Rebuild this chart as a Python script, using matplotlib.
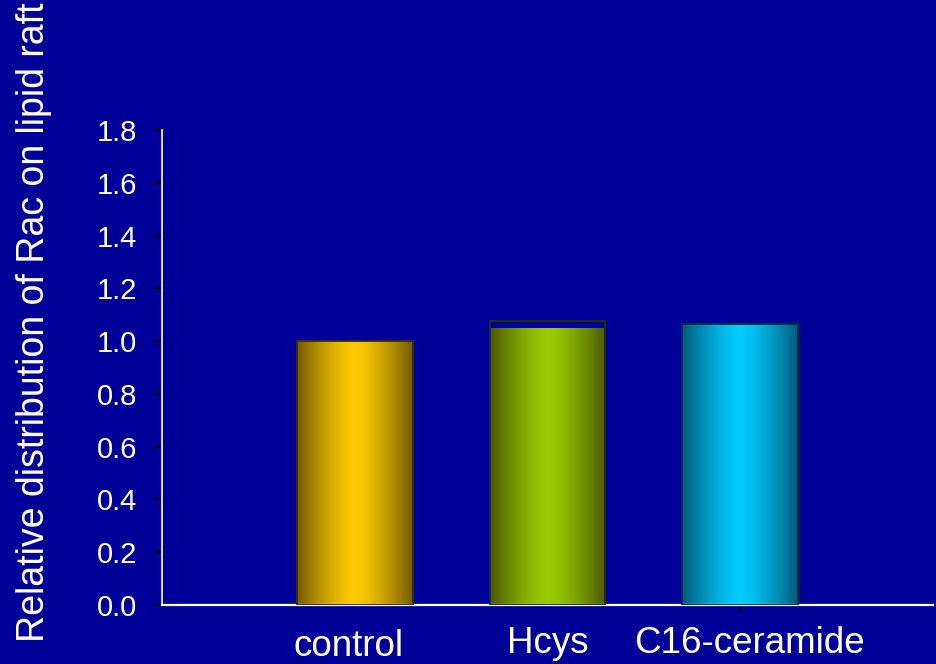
import numpy as np
import matplotlib
matplotlib.use("Agg")
import matplotlib.pyplot as plt
from matplotlib.colors import to_rgb
from matplotlib.transforms import blended_transform_factory

plt.rcParams['font.family'] = ['Liberation Sans', 'DejaVu Sans']

# ---- data ----
categories = ["control", "Hcys", "C16-ceramide"]
values = [1.00, 1.05, 1.063]          # filled bar heights
outline_values = [1.00, 1.076, 1.063]  # outlined box heights (Hcys box extends above fill)
y_ticks = [0.0, 0.2, 0.4, 0.6, 0.8, 1.0, 1.2, 1.4, 1.6, 1.8]
ylabel = "Relative distribution of Rac on lipid raft"

# ---- style ----
bg = "#000099"
center_colors = ["#FFCC00", "#99CC00", "#00CCFF"]
edge_colors = ["#735a00", "#4a5800", "#005a78"]
line_colors = ["#3a3000", "#263000", "#00323f"]
label_dx = [-0.03, 0.0, 0.05]
label_baseline_px = [8, 11, 11]

W, H = 937, 664
fig = plt.figure(figsize=(W / 100, H / 100), dpi=100, facecolor=bg)
ax = fig.add_axes([162 / W, 59 / H, 771 / W, 475 / H], facecolor=bg)

x = np.arange(len(categories))
bw = 0.6
bars = ax.bar(x, values, width=bw, color="none", edgecolor="none", zorder=2)

# gradient fill for each bar
N = 256
t = np.linspace(0, 1, N)
wgt = 1 - (np.abs(t - 0.5) / 0.5) ** 1.4
for i, b in enumerate(bars):
    c0 = np.array(to_rgb(edge_colors[i]))
    c1 = np.array(to_rgb(center_colors[i]))
    img = (c0[None, :] * (1 - wgt[:, None]) + c1[None, :] * wgt[:, None])[None, :, :]
    im = ax.imshow(img, extent=[x[i] - bw / 2, x[i] + bw / 2, 0, values[i]],
                   aspect="auto", zorder=2, interpolation="bilinear")
    im.set_clip_path(b)

# outlines
ax.bar(x, outline_values, width=bw, fill=False, edgecolor=line_colors,
       linewidth=1.4, zorder=3)

ax.set_xlim(-1, 3)
ax.set_ylim(0, 1.8)

# y axis
ax.set_yticks(y_ticks)
ax.set_yticklabels([f"{v:.1f}" for v in y_ticks])
ax.tick_params(axis="y", colors="black", labelcolor="white", labelsize=21,
               length=5.8, width=1.4, direction="out", pad=12)
# x axis: single tick mark at last category
ax.set_xticks([x[-1]])
ax.set_xticklabels([""])
ax.tick_params(axis="x", colors="black", length=5.8, width=1.6, direction="out")

for s in ["top", "right"]:
    ax.spines[s].set_visible(False)
ax.spines["left"].set_color("white")
ax.spines["left"].set_linewidth(1.2)
ax.spines["bottom"].set_color("white")
ax.spines["bottom"].set_linewidth(1.6)

# category labels
tr = blended_transform_factory(ax.transData, fig.transFigure)
for i, cat in enumerate(categories):
    ax.text(x[i] + label_dx[i], label_baseline_px[i] / H, cat, transform=tr,
            ha="center", va="baseline", color="white", fontsize=26.5, clip_on=False)

fig.text(34 / W, 1 - 322 / H, ylabel, rotation=90, ha="center", va="center",
         color="white", fontsize=27)

fig.savefig("out.png", dpi=100, facecolor=bg)
